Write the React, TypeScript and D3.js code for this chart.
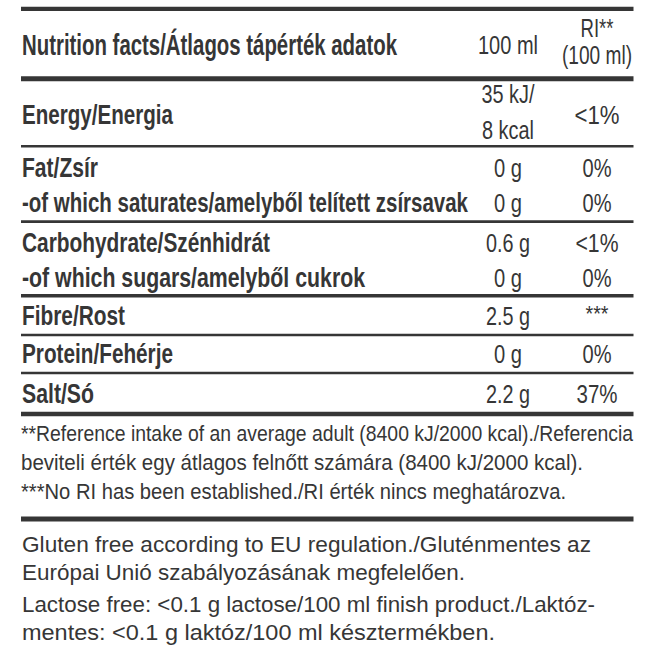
import * as d3 from 'd3';

// Table contents
const headerLabel = 'Nutrition facts/Átlagos tápérték adatok';
const headerAmount = '100 ml';
const headerRi = ['RI**', '(100 ml)'];

const rowLabels = [
  'Energy/Energia',
  'Fat/Zsír',
  '-of which saturates/amelyből telített zsírsavak',
  'Carbohydrate/Szénhidrát',
  '-of which sugars/amelyből cukrok',
  'Fibre/Rost',
  'Protein/Fehérje',
  'Salt/Só',
];
const rowAmounts = [['35 kJ/', '8 kcal'], ['0 g'], ['0 g'], ['0.6 g'], ['0 g'], ['2.5 g'], ['0 g'], ['2.2 g']];
const rowRi = ['<1%', '0%', '0%', '<1%', '0%', '***', '0%', '37%'];

const footnotes = [
  '**Reference intake of an average adult (8400 kJ/2000 kcal)./Referencia',
  'beviteli érték egy átlagos felnőtt számára (8400 kJ/2000 kcal).',
  '***No RI has been established./RI érték nincs meghatározva.',
];
const notes = [
  'Gluten free according to EU regulation./Gluténmentes az',
  'Európai Unió szabályozásának megfelelően.',
  'Lactose free: <0.1 g lactose/100 ml finish product./Laktóz-',
  'mentes: <0.1 g laktóz/100 ml késztermékben.',
];

// layout (measured from the label)
const W = 659;
const H = 659;
const left = 21;
const right = 633.5;
const ink = '#363636';
const font = '"Liberation Sans Narrow", "Liberation Sans", Arial, sans-serif';

const col = d3.scaleOrdinal<string, number>().domain(['label', 'amount', 'ri']).range([22, 508, 597]);

const rowBaselines = [124, 177, 212, 252, 287, 325, 363, 403];
const labelWidths = [151, 76, 446, 248, 343, 103, 151, 72];
const amountWidths: Record<string, number> = {
  '35 kJ/': 53, '8 kcal': 52, '0 g': 28, '0.6 g': 44, '2.5 g': 44, '2.2 g': 44,
};
const riWidths = [45, 29, 29, 43, 29, 23, 29, 41];

const rules = [
  { y: 8.8, w: 4.3 },
  { y: 78.8, w: 5 },
  { y: 146.3, w: 2.4 },
  { y: 221.7, w: 2.7 },
  { y: 295.7, w: 3.4 },
  { y: 335, w: 2.7 },
  { y: 373, w: 2.7 },
  { y: 414, w: 4.5 },
  { y: 519, w: 5 },
];

const footY = d3.scaleLinear().domain([0, 1]).range([441, 470]);
const footWidths = [612, 562, 545];
const noteBaselines = [552, 580, 612, 640];
const noteWidths = [569, 443, 573, 473];

export default function App() {
  return (
    <svg
      width={W}
      height={H}
      style={{ position: 'fixed', top: 0, left: 0, background: '#fff' }}
      fontFamily={font}
      fill={ink}
    >
      <rect width={W} height={H} fill="#fff" />
      {rules.map((r, i) => (
        <line key={i} x1={left} x2={right} y1={r.y} y2={r.y} stroke={ink} strokeWidth={r.w} />
      ))}

      {/* header */}
      <text x={col('label')} y={55} fontSize={29} fontWeight="bold" textLength={375} lengthAdjust="spacingAndGlyphs">
        {headerLabel}
      </text>
      <text x={col('amount')} y={54} fontSize={26} textAnchor="middle" textLength={60} lengthAdjust="spacingAndGlyphs">
        {headerAmount}
      </text>
      <text x={col('ri')} y={37} fontSize={26} textAnchor="middle" textLength={33} lengthAdjust="spacingAndGlyphs">
        {headerRi[0]}
      </text>
      <text x={col('ri')} y={64} fontSize={26} textAnchor="middle" textLength={70} lengthAdjust="spacingAndGlyphs">
        {headerRi[1]}
      </text>

      {/* rows */}
      {rowLabels.map((label, i) => (
        <g key={label}>
          <text
            x={col('label')}
            y={rowBaselines[i]}
            fontSize={27.5}
            fontWeight="bold"
            textLength={labelWidths[i]}
            lengthAdjust="spacingAndGlyphs"
          >
            {label}
          </text>
          {rowAmounts[i].map((a, j) => (
            <text
              key={j}
              x={col('amount')}
              y={rowAmounts[i].length > 1 ? [102.7, 139.3][j] : rowBaselines[i]}
              fontSize={26}
              textAnchor="middle"
              textLength={amountWidths[a]}
              lengthAdjust="spacingAndGlyphs"
            >
              {a}
            </text>
          ))}
          <text
            x={col('ri')}
            y={rowRi[i] === '***' ? rowBaselines[i] - 4 : rowBaselines[i]}
            fontSize={rowRi[i] === '***' ? 22 : 26}
            textAnchor="middle"
            textLength={riWidths[i]}
            lengthAdjust="spacingAndGlyphs"
          >
            {rowRi[i]}
          </text>
        </g>
      ))}

      {/* footnotes */}
      {footnotes.map((t, i) => (
        <text key={t} x={left} y={footY(i)} fontSize={22} textLength={footWidths[i]} lengthAdjust="spacingAndGlyphs">
          {t}
        </text>
      ))}
      {notes.map((t, i) => (
        <text key={t} x={left + 1} y={noteBaselines[i]} fontSize={22} textLength={noteWidths[i]} lengthAdjust="spacingAndGlyphs">
          {t}
        </text>
      ))}
    </svg>
  );
}
